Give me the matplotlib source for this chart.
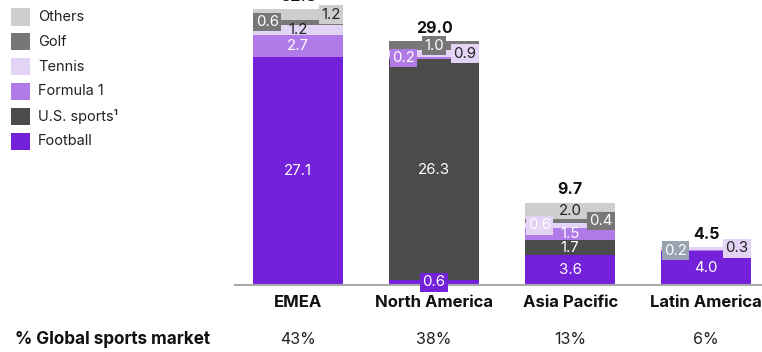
import matplotlib
matplotlib.use("Agg")
import matplotlib.pyplot as plt
import numpy as np

plt.rcParams['font.family'] = ['Inter', 'DejaVu Sans']

regions = ["EMEA", "North America", "Asia Pacific", "Latin America"]
sports = ["Football", "U.S. sports\u00b9", "Formula 1", "Tennis", "Golf", "Others"]
football = [27.1, 0.6, 3.6, 4.0]
us_sports = [0.0, 26.3, 1.7, 0.0]
formula1 = [2.7, 0.2, 1.5, 0.2]
tennis = [1.2, 0.9, 0.6, 0.3]
golf = [0.6, 1.0, 0.4, 0.0]
others = [1.2, 0.0, 2.0, 0.0]
totals = ["32.8", "29.0", "9.7", "4.5"]
share = ["43%", "38%", "13%", "6%"]

series = [football, us_sports, formula1, tennis, golf, others]
colors = ["#7422d9", "#4b4b4b", "#b07be6", "#e3d4f6", "#777777", "#cecece"]
txtcol = ["white", "white", "white", "#222222", "white", "#222222"]

# label placement per (region, series): 'c' centre, 'bl' box-left, 'br' box-right, 'bc' box-centre, None
place = [
    ['c', None, 'c', 'c', 'bl', 'br'],
    ['bc', 'c', 'bl', 'br', 'bc', None],
    ['c', 'c', 'c', 'bl', 'br', 'c'],
    ['c', None, 'bl', 'br', None, None],
]
box_override = {(3, 2): "#97a3b0"}
txt_override = {(3, 2): "white", (2, 3): "white"}

fig = plt.figure(figsize=(7.62, 3.52), dpi=100)
ax = fig.add_axes([235 / 762, 67 / 352, 527 / 762, 285 / 352])
x = np.arange(len(regions))
w = 0.662
bottom = np.zeros(len(regions))
for si, vals in enumerate(series):
    vals = np.array(vals)
    ax.bar(x, vals, w, bottom=bottom, color=colors[si], linewidth=0, zorder=2)
    for ri in range(len(regions)):
        v = vals[ri]
        p = place[ri][si]
        if p is None or v <= 0:
            continue
        yc = bottom[ri] + v / 2
        tc = txt_override.get((ri, si), txtcol[si])
        fc = box_override.get((ri, si), colors[si])
        bb = dict(boxstyle="square,pad=0.15", fc=fc, ec="none")
        kw = dict(va="center", color=tc, fontsize=10.8, zorder=4)
        if p == 'c':
            ax.text(x[ri], yc, f"{v:.1f}", ha="center", **kw)
        elif p == 'bc':
            ax.text(x[ri], yc, f"{v:.1f}", ha="center", bbox=bb, **kw)
        elif p == 'bl':
            ax.text(x[ri] - w / 2 + 0.02, yc, f"{v:.1f}", ha="left", bbox=bb, **kw)
        elif p == 'br':
            ax.text(x[ri] + w / 2 - 0.02, yc, f"{v:.1f}", ha="right", bbox=bb, **kw)
    bottom = bottom + vals

for ri in range(len(regions)):
    ax.annotate(totals[ri], (x[ri], bottom[ri]), xytext=(0, 4), textcoords="offset points",
                ha="center", va="bottom", fontsize=11.5, fontweight="bold", color="#111111",
                annotation_clip=False)

ax.set_xlim(-0.463, 3.41)
ax.set_ylim(0, 33.93)
for s in ["top", "right", "left"]:
    ax.spines[s].set_visible(False)
ax.spines["bottom"].set_color("#aaaaaa")
ax.spines["bottom"].set_linewidth(1.5)
ax.spines["bottom"].set_zorder(3)
ax.set_yticks([])
ax.set_xticks(x)
ax.set_xticklabels(regions, fontsize=12, fontweight="bold", color="#111111")
ax.tick_params(axis="x", length=0, pad=7)

# bottom row
fig.text(15 / 762, 1 - 340 / 352, "% Global sports market", ha="left", va="center",
         fontsize=12.3, fontweight="bold", color="#111111")
for ri in range(len(regions)):
    xf = (235 + (x[ri] + 0.463) / (3.41 + 0.463) * 527) / 762
    fig.text(xf, 1 - 340 / 352, share[ri], ha="center", va="center", fontsize=11.5,
             color="#222222")

# legend (top to bottom: Others ... Football)
for k, si in enumerate(range(len(sports) - 1, -1, -1)):
    yc = 17 + k * 24.8
    fig.patches.append(plt.Rectangle((11 / 762, 1 - (yc + 8.5) / 352), 19 / 762, 17 / 352,
                                     transform=fig.transFigure, fc=colors[si], ec="none"))
    fig.text(38 / 762, 1 - yc / 352, sports[si], ha="left", va="center", fontsize=10.5, color="#222222")

fig.savefig("out.png", dpi=100)
